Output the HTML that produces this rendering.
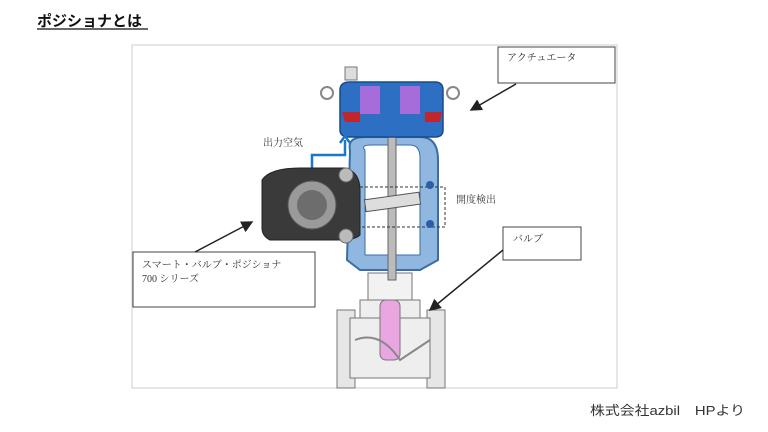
<!DOCTYPE html>
<html><head><meta charset="utf-8"><style>
body{margin:0;width:768px;height:432px;background:#fff;overflow:hidden;font-family:"Liberation Sans","Noto Sans CJK JP",sans-serif;}
</style></head><body>
<svg width="768" height="432" xmlns="http://www.w3.org/2000/svg" style="position:absolute;left:0;top:0">
<text x="37" y="26" font-size="15" font-weight="bold" font-family="Liberation Sans,Noto Sans CJK JP,sans-serif" fill="#111">ポジショナとは</text>
<line x1="37" y1="29" x2="148" y2="29" stroke="#111" stroke-width="1.2"/>
<rect x="132" y="45" width="485" height="343" fill="#fff" stroke="#ccc" stroke-width="1"/>
<!-- body -->
<rect x="337" y="310" width="18" height="78" fill="#e6e6e6" stroke="#777"/>
<rect x="427" y="310" width="18" height="78" fill="#e6e6e6" stroke="#777"/>
<path d="M350 318 L430 318 L430 378 L350 378 Z" fill="#eee" stroke="#777"/>
<path d="M360 300 L420 300 L420 318 L360 318 Z" fill="#eee" stroke="#777"/>
<path d="M368 273 L412 273 L412 300 L368 300 Z" fill="#f2f2f2" stroke="#777"/>
<rect x="380" y="300" width="20" height="60" rx="6" fill="#e9a6e0" stroke="#777"/>
<path d="M355 340 Q380 330 400 360 L430 340" fill="none" stroke="#888" stroke-width="2"/>
<!-- yoke -->
<path d="M350 150 Q347 137 365 137 L420 137 Q438 137 438 160 L438 260 L420 270 L360 270 L347 260 Z" fill="#8fb7df" stroke="#3a6ea5" stroke-width="2"/>
<path d="M365 150 Q360 145 372 145 L410 145 Q420 145 420 158 L420 255 L365 255 Z" fill="#fff" stroke="#3a6ea5"/>
<rect x="388" y="120" width="8" height="160" fill="#bbb" stroke="#666"/>
<rect x="340" y="187" width="105" height="40" fill="none" stroke="#333" stroke-dasharray="3,2"/>
<rect x="365" y="196" width="55" height="12" fill="#ddd" stroke="#555" transform="rotate(-8 392 202)"/>
<circle cx="430" cy="185" r="4" fill="#2c5ea8"/><circle cx="430" cy="224" r="4" fill="#2c5ea8"/>
<!-- actuator -->
<path d="M340 90 Q340 82 350 82 L435 82 Q443 82 443 90 L443 130 Q443 137 435 137 L350 137 Q340 137 340 130 Z" fill="#2d6fc2" stroke="#1d4a86" stroke-width="1.5"/>
<rect x="360" y="86" width="20" height="28" fill="#c46be0" opacity="0.8"/>
<rect x="400" y="86" width="20" height="28" fill="#c46be0" opacity="0.8"/>
<path d="M342 112 L360 112 L360 122 L345 122 Z" fill="#c0262e"/>
<path d="M425 112 L442 112 L440 122 L425 122 Z" fill="#c0262e"/>
<rect x="345" y="67" width="12" height="13" fill="#ddd" stroke="#777"/>
<circle cx="327" cy="93" r="6" fill="none" stroke="#888" stroke-width="2"/>
<circle cx="453" cy="93" r="6" fill="none" stroke="#888" stroke-width="2"/>
<!-- air line -->
<path d="M312 170 L312 155 L345 155 L345 140" fill="none" stroke="#1a78c8" stroke-width="2.5"/>
<path d="M340 143 L345 136 L350 143" fill="none" stroke="#1a78c8" stroke-width="2.5"/>
<!-- positioner -->
<path d="M262 180 Q270 168 300 168 L345 168 Q360 172 360 190 L360 235 Q355 240 340 240 L270 240 Q262 236 262 228 Z" fill="#3a3a3a" stroke="#222"/>
<circle cx="312" cy="205" r="24" fill="#9a9a9a" stroke="#555"/>
<circle cx="312" cy="205" r="15" fill="#6d6d6d"/>
<circle cx="346" cy="175" r="7" fill="#bbb" stroke="#666"/>
<circle cx="346" cy="236" r="7" fill="#bbb" stroke="#666"/>
<!-- labels -->
<g font-family="Liberation Serif,Noto Serif CJK SC,serif" font-size="10" fill="#333">
<text x="263" y="146">出力空気</text>
<text x="456" y="203">開度検出</text>
</g>
<rect x="498" y="47" width="117" height="36" fill="#fff" stroke="#444"/>
<text x="507" y="61" font-size="10" font-family="Liberation Serif,Noto Serif CJK SC,serif" fill="#333">アクチュエータ</text>
<rect x="503" y="227" width="78" height="33" fill="#fff" stroke="#444"/>
<text x="513" y="242" font-size="10" font-family="Liberation Serif,Noto Serif CJK SC,serif" fill="#333">バルブ</text>
<rect x="133" y="252" width="182" height="55" fill="#fff" stroke="#444"/>
<text x="142" y="268" font-size="10" font-family="Liberation Serif,Noto Serif CJK SC,serif" fill="#333">スマート・バルブ・ポジショナ</text>
<text x="142" y="282" font-size="10" font-family="Liberation Serif,Noto Serif CJK SC,serif" fill="#333">700 シリーズ</text>
<!-- arrows -->
<defs><marker id="a" markerWidth="8" markerHeight="8" refX="7" refY="4" orient="auto"><path d="M0 0 L8 4 L0 8 Z" fill="#222"/></marker></defs>
<line x1="516" y1="84" x2="471" y2="110" stroke="#222" stroke-width="1.5" marker-end="url(#a)"/>
<line x1="503" y1="250" x2="430" y2="310" stroke="#222" stroke-width="1.5" marker-end="url(#a)"/>
<line x1="195" y1="252" x2="252" y2="222" stroke="#222" stroke-width="1.5" marker-end="url(#a)"/>
<text x="590" y="415" font-size="13" fill="#333" textLength="155" lengthAdjust="spacingAndGlyphs" font-family="Liberation Sans,Noto Sans CJK JP,sans-serif">株式会社azbil　HPより</text>
</svg>
</body></html>
